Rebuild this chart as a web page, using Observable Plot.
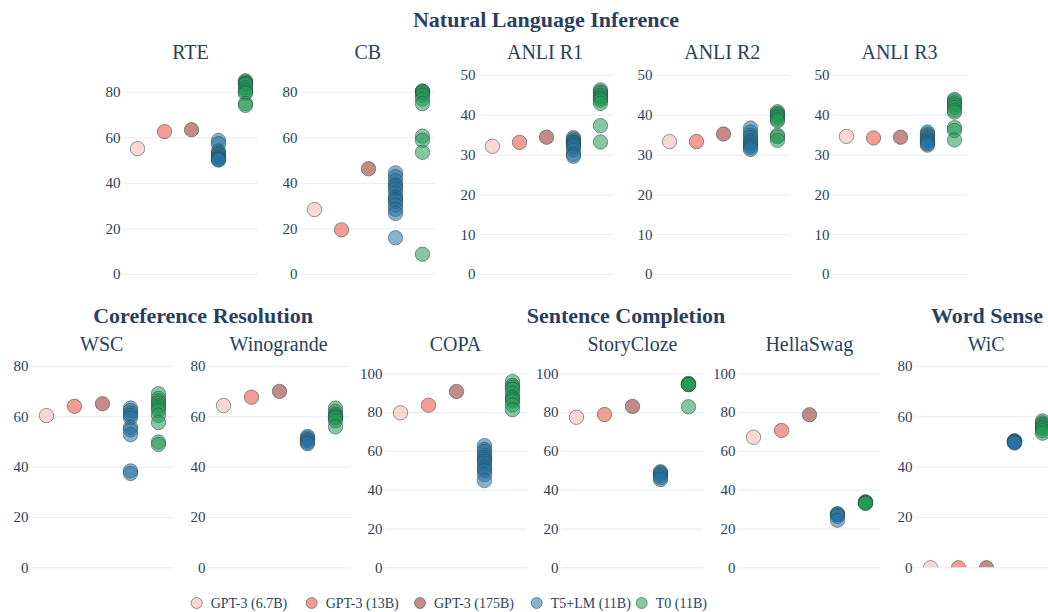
<!DOCTYPE html>
<html>
<head>
<meta charset="utf-8">
<script src="https://cdn.jsdelivr.net/npm/d3@7"></script>
<script src="https://cdn.jsdelivr.net/npm/@observablehq/plot@0.6"></script>
<style>
  html, body { margin: 0; padding: 0; background: #fff; overflow: hidden; }
  #root { position: relative; width: 1048px; height: 612px; overflow: hidden; background: #fff;
          font-family: "Liberation Serif", "Times New Roman", serif; color: #2a3f5f; }
  #root svg { font-family: "Liberation Serif", "Times New Roman", serif; }
</style>
</head>
<body>
<div id="root"></div>
<script>
// ---------- DATA ----------
const models = ["GPT-3 (6.7B)", "GPT-3 (13B)", "GPT-3 (175B)", "T5+LM (11B)", "T0 (11B)"];
const modelColors = ["#f5b7b1", "#e74c3c", "#922b21", "#2471a3", "#229954"];

const tasks = ["RTE", "CB", "ANLI R1", "ANLI R2", "ANLI R3", "WSC", "Winogrande", "COPA", "StoryCloze", "HellaSwag", "WiC"];
const groups = ["Natural Language Inference", "Coreference Resolution", "Sentence Completion", "Word Sense"];

// GPT-3 values: [6.7B, 13B, 175B]
const rteGpt3 = [55.2, 62.7, 63.5];
const rteT5lm = [58.8, 57.4, 54.2, 53.4, 52.7, 52.0, 51.3, 50.9, 50.5, 50.2];
const rteT0 = [85.0, 84.5, 84.1, 83.8, 83.4, 82.0, 81.0, 80.1, 79.5, 75.0, 74.2];

const cbGpt3 = [28.5, 19.6, 46.4];
const cbT5lm = [44.6, 42.9, 41.1, 39.3, 38.6, 37.5, 35.7, 33.9, 33.0, 32.1, 30.4, 28.6, 26.8, 16.1];
const cbT0 = [80.4, 80.4, 80.4, 79.6, 78.6, 77.0, 75.0, 60.7, 58.9, 53.6, 8.9];

const anliR1Gpt3 = [32.2, 33.2, 34.5];
const anliR1T5lm = [34.4, 34.0, 33.6, 33.3, 33.1, 32.8, 32.4, 32.0, 31.3, 30.2, 29.7];
const anliR1T0 = [46.4, 45.9, 45.6, 45.0, 44.6, 44.2, 43.8, 43.0, 37.4, 33.3];

const anliR2Gpt3 = [33.4, 33.4, 35.3];
const anliR2T5lm = [36.8, 35.8, 35.0, 34.4, 33.6, 33.2, 32.8, 32.3, 31.9, 31.4];
const anliR2T0 = [40.9, 40.5, 40.2, 39.9, 39.5, 39.0, 38.6, 35.0, 34.6, 33.7];

const anliR3Gpt3 = [34.7, 34.3, 34.5];
const anliR3T5lm = [35.8, 35.3, 34.9, 34.4, 34.0, 33.6, 33.2, 32.9, 32.5];
const anliR3T0 = [44.0, 43.6, 43.1, 42.6, 42.0, 41.3, 40.8, 36.9, 36.2, 33.8];

const wscGpt3 = [60.5, 64.2, 65.2];
const wscT5lm = [63.5, 62.5, 61.5, 60.6, 59.6, 55.8, 54.8, 52.9, 38.5, 37.5];
const wscT0 = [69.2, 67.3, 66.3, 65.4, 64.4, 63.5, 62.5, 60.6, 57.7, 50.0, 49.0];

const winograndeGpt3 = [64.5, 67.8, 70.1];
const winograndeT5lm = [52.2, 51.6, 51.0, 50.5, 49.8, 49.3];
const winograndeT0 = [63.5, 62.1, 61.0, 60.4, 60.0, 59.5, 58.4, 56.0];

const copaGpt3 = [79.9, 83.8, 90.9];
const copaT5lm = [63.0, 61.0, 60.0, 58.0, 57.0, 56.0, 55.0, 54.0, 52.0, 51.0, 50.0, 48.0, 45.0];
const copaT0 = [96.0, 94.0, 93.0, 92.0, 90.0, 88.0, 87.0, 86.0, 84.0, 81.5];

const storyClozeGpt3 = [77.6, 79.0, 83.2];
const storyClozeT5lm = [49.5, 49.0, 48.5, 47.5, 46.5, 45.5];
const storyClozeT0 = [95.0, 94.8, 94.6, 94.5, 94.4, 83.0];

const hellaSwagGpt3 = [67.3, 70.8, 78.9];
const hellaSwagT5lm = [27.9, 27.6, 27.3, 26.5, 24.5];
const hellaSwagT0 = [34.0, 33.8, 33.6, 33.4, 33.2];

const wicGpt3 = [0, 0, 0];
const wicT5lm = [50.5, 50.3, 50.2, 50.0, 49.8, 49.6];
const wicT0 = [58.4, 57.6, 57.0, 56.4, 55.8, 55.2, 54.5, 53.5];

const ticks80 = [0, 20, 40, 60, 80];
const ticks50 = [0, 10, 20, 30, 40, 50];
const ticks100 = [0, 20, 40, 60, 80, 100];

// ---------- BUILD ----------
function rows(gpt3, t5lm, t0) {
  const out = [];
  gpt3.forEach((v, i) => out.push({model: models[i], value: v}));
  t5lm.forEach(v => out.push({model: models[3], value: v}));
  t0.forEach(v => out.push({model: models[4], value: v}));
  return out;
}

const root = document.getElementById("root");
const FONT = "'Liberation Serif', 'Times New Roman', serif";
const INK = "#2a3f5f";

function panel(data, yMax, ticks, left, top, bottom, width) {
  const mL = 40, mR = 20, mT = 12, mB = 12;
  const chart = Plot.plot({
    width: width + mL + mR,
    height: (bottom - top) + mT + mB,
    marginLeft: mL, marginRight: mR, marginTop: mT, marginBottom: mB,
    style: {background: "transparent", fontFamily: FONT, color: INK, overflow: "visible"},
    x: {type: "point", domain: models, padding: 0.5, axis: null},
    y: {domain: [0, yMax], axis: null},
    color: {domain: models, range: modelColors},
    marks: [
      Plot.gridY(ticks, {stroke: "#e6ecf5", strokeOpacity: 1, strokeWidth: 1}),
      Plot.axisY(ticks, {tickSize: 0, tickPadding: 3, fontSize: 15, fill: INK, label: null}),
      Plot.dot(data, {
        x: "model", y: "value", fill: "model", r: 7.2,
        fillOpacity: 0.55, stroke: "#2f4f4f", strokeOpacity: 0.55, strokeWidth: 1,
        clip: true
      })
    ]
  });
  chart.style.position = "absolute";
  chart.style.left = (left - mL) + "px";
  chart.style.top = (top - mT) + "px";
  root.appendChild(chart);
}

// Top row: y=0 at 274, plot frame top at 60
const topTop = 60, topBottom = 274, topW = 135;
const topLefts = [123, 300.25, 477.5, 654.75, 832];
const topSpecs = [
  [rows(rteGpt3, rteT5lm, rteT0), 93.9, ticks80],
  [rows(cbGpt3, cbT5lm, cbT0), 93.9, ticks80],
  [rows(anliR1Gpt3, anliR1T5lm, anliR1T0), 53.77, ticks50],
  [rows(anliR2Gpt3, anliR2T5lm, anliR2T0), 53.77, ticks50],
  [rows(anliR3Gpt3, anliR3T5lm, anliR3T0), 53.77, ticks50]
];
topSpecs.forEach((s, i) => panel(s[0], s[1], s[2], topLefts[i], topTop, topBottom, topW));

// Bottom row: y=0 at 567.3, frame top at 345
const botTop = 345, botBottom = 567.3, botW = 142;
const botLefts = [30.7, 207.6, 384.5, 561.4, 738.3, 915.2];
const botSpecs = [
  [rows(wscGpt3, wscT5lm, wscT0), 88.35, ticks80],
  [rows(winograndeGpt3, winograndeT5lm, winograndeT0), 88.35, ticks80],
  [rows(copaGpt3, copaT5lm, copaT0), 114.6, ticks100],
  [rows(storyClozeGpt3, storyClozeT5lm, storyClozeT0), 114.6, ticks100],
  [rows(hellaSwagGpt3, hellaSwagT5lm, hellaSwagT0), 114.6, ticks100],
  [rows(wicGpt3, wicT5lm, wicT0), 88.35, ticks80]
];
botSpecs.forEach((s, i) => panel(s[0], s[1], s[2], botLefts[i], botTop, botBottom, botW));

// ---------- TEXT OVERLAY (titles + legend) ----------
const svg = d3.select(root).append("svg")
  .attr("width", 1048).attr("height", 612)
  .style("position", "absolute").style("left", 0).style("top", 0)
  .style("pointer-events", "none")
  .attr("font-family", FONT).attr("fill", INK);

const panelTitles = [
  ...tasks.slice(0, 5).map((t, i) => ({t, x: topLefts[i] + topW / 2, y: 58.5})),
  ...tasks.slice(5).map((t, i) => ({t, x: botLefts[i] + botW / 2, y: 351}))
];
svg.selectAll("text.pt").data(panelTitles).join("text")
  .attr("class", "pt").attr("x", d => d.x).attr("y", d => d.y)
  .attr("text-anchor", "middle").attr("font-size", 20).text(d => d.t);

const groupTitles = [
  {t: groups[0], x: 546, y: 27},
  {t: groups[1], x: 203, y: 323},
  {t: groups[2], x: 626, y: 323},
  {t: groups[3], x: 987, y: 323}
];
svg.selectAll("text.gt").data(groupTitles).join("text")
  .attr("class", "gt").attr("x", d => d.x).attr("y", d => d.y)
  .attr("text-anchor", "middle").attr("font-size", 22).attr("font-weight", "bold").text(d => d.t);

const legendX = [196.7, 311.7, 420, 536.7, 641.7];
const leg = svg.selectAll("g.lg").data(models).join("g").attr("class", "lg")
  .attr("transform", (d, i) => `translate(${legendX[i]},603)`);
leg.append("circle").attr("r", 5.5)
  .attr("fill", (d, i) => modelColors[i]).attr("fill-opacity", 0.55)
  .attr("stroke", "#2f4f4f").attr("stroke-opacity", 0.55);
leg.append("text").attr("x", 14).attr("y", 4.8).attr("font-size", 14).text(d => d);
</script>
</body>
</html>
